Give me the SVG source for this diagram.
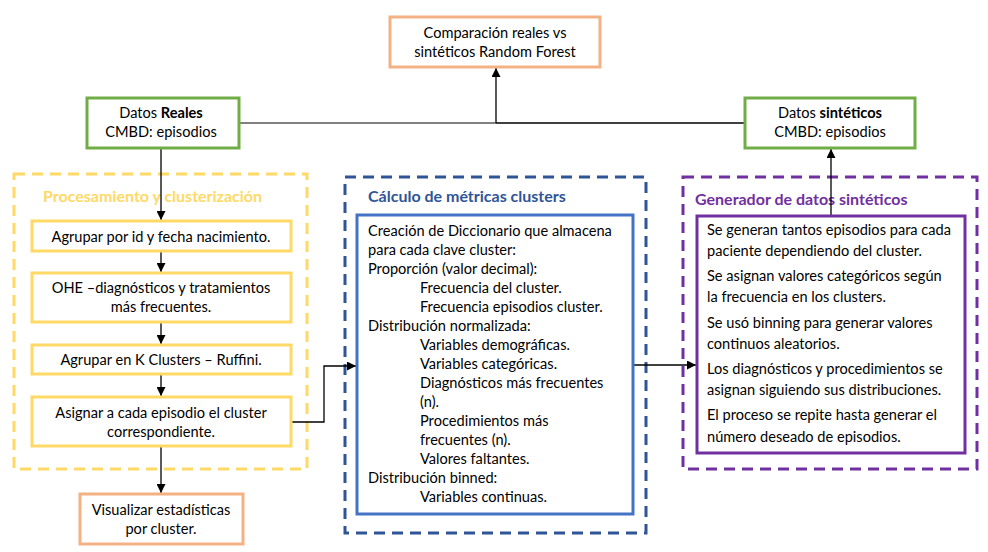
<svg xmlns="http://www.w3.org/2000/svg" width="988" height="552" viewBox="0 0 988 552">
<defs>
<marker id="ah" viewBox="0 0 10 10" refX="10" refY="5" markerWidth="9" markerHeight="9" markerUnits="userSpaceOnUse" orient="auto">
<path d="M0,0 L10,5 L0,10 z" fill="#000"/>
</marker>
</defs>
<style>
text{font-family:Lato,"Liberation Sans",sans-serif;font-size:14.6px;fill:#000}
.c{text-anchor:middle}
.b{font-weight:bold}
.t{font-weight:bold;font-size:16px}
.box{fill:#fff;stroke-width:3}
.green{stroke:#70AD47}
.orange{stroke:#F4B183}
.yellow{stroke:#FFD966}
.dash{fill:none;stroke-width:3;stroke-dasharray:11 7}
.con{fill:none;stroke:#000;stroke-width:1.3}
</style>
<rect width="988" height="552" fill="#fff"/>

<g id="grp-proc">
<rect class="dash" x="14" y="174" width="293" height="295" stroke="#FFD966"/>
<text x="43" y="202" class="t" style="fill:#FFD966">Procesamiento y clusterización</text>
</g>
<g id="grp-calc">
<rect class="dash" x="345" y="177" width="301" height="356" stroke="#2F5597"/>
<text x="368" y="202" class="t" style="fill:#2F5597">Cálculo de métricas clusters</text>
</g>
<g id="grp-gen">
<rect class="dash" x="683" y="177" width="294" height="292" stroke="#7030A0"/>
<text x="695" y="205" class="t" style="fill:#7030A0">Generador de datos sintéticos</text>
</g>

<g id="connectors">
<line class="con" x1="239" y1="123" x2="496" y2="123" style="stroke:#808080;stroke-width:2"/>
<line class="con" x1="496" y1="123" x2="745" y2="123"/>
<line class="con" x1="496" y1="123" x2="496" y2="68" marker-end="url(#ah)"/>
<line class="con" x1="161" y1="148" x2="161" y2="220" marker-end="url(#ah)"/>
<line class="con" x1="161" y1="251" x2="161" y2="272" marker-end="url(#ah)"/>
<line class="con" x1="161" y1="322" x2="161" y2="344" marker-end="url(#ah)"/>
<line class="con" x1="161" y1="374" x2="161" y2="396" marker-end="url(#ah)"/>
<line class="con" x1="161" y1="446" x2="161" y2="493" marker-end="url(#ah)"/>
<polyline class="con" points="291,422 324,422 324,366 356,366" marker-end="url(#ah)"/>
<line class="con" x1="633" y1="365" x2="696" y2="365" marker-end="url(#ah)"/>
<line class="con" x1="831" y1="215" x2="831" y2="149" marker-end="url(#ah)"/>
</g>

<g id="n-comparacion">
<rect class="box orange" x="390" y="17" width="210" height="50"/>
<text x="495" y="38" class="c">Comparación reales vs</text>
<text x="495" y="57" class="c">sintéticos Random Forest</text>
</g>
<g id="n-reales">
<rect class="box green" x="87" y="98" width="152" height="50"/>
<text x="161" y="118" class="c">Datos <tspan class="b">Reales</tspan></text>
<text x="161" y="137" class="c">CMBD: episodios</text>
</g>
<g id="n-sinteticos">
<rect class="box green" x="745" y="98" width="170" height="50"/>
<text x="830" y="118" class="c">Datos <tspan class="b">sintéticos</tspan></text>
<text x="830" y="137" class="c">CMBD: episodios</text>
</g>

<g id="n-agrupar-id">
<rect class="box yellow" x="32" y="221" width="259" height="30"/>
<text x="161" y="242" class="c">Agrupar por id y fecha nacimiento.</text>
</g>
<g id="n-ohe">
<rect class="box yellow" x="32" y="273" width="259" height="49"/>
<text x="161" y="293" class="c">OHE –diagnósticos y tratamientos</text>
<text x="161" y="312" class="c">más frecuentes.</text>
</g>
<g id="n-kclusters">
<rect class="box yellow" x="32" y="345" width="259" height="29"/>
<text x="161" y="365" class="c">Agrupar en K Clusters – Ruffini.</text>
</g>
<g id="n-asignar">
<rect class="box yellow" x="32" y="397" width="259" height="49"/>
<text x="161" y="418" class="c">Asignar a cada episodio el cluster</text>
<text x="161" y="437" class="c">correspondiente.</text>
</g>
<g id="n-visualizar">
<rect class="box orange" x="80" y="494" width="163" height="50"/>
<text x="161" y="515" class="c">Visualizar estadísticas</text>
<text x="161" y="534" class="c">por cluster.</text>
</g>

<g id="n-calculo">
<rect class="box" x="357" y="215" width="276" height="299" stroke="#4472C4"/>
<text x="368" y="236">Creación de Diccionario que almacena</text>
<text x="368" y="255">para cada clave cluster:</text>
<text x="368" y="274">Proporción (valor decimal):</text>
<text x="420" y="293">Frecuencia del cluster.</text>
<text x="420" y="312">Frecuencia episodios cluster.</text>
<text x="368" y="331">Distribución normalizada:</text>
<text x="420" y="350">Variables demográficas.</text>
<text x="420" y="369">Variables categóricas.</text>
<text x="420" y="388">Diagnósticos más frecuentes</text>
<text x="420" y="407">(n).</text>
<text x="420" y="426">Procedimientos más</text>
<text x="420" y="445">frecuentes (n).</text>
<text x="420" y="464">Valores faltantes.</text>
<text x="368" y="483">Distribución binned:</text>
<text x="420" y="502">Variables continuas.</text>
</g>

<g id="n-generador">
<rect class="box" x="697" y="216" width="268" height="237" stroke="#7030A0"/>
<text x="707" y="235">Se generan tantos episodios para cada</text>
<text x="707" y="256">paciente dependiendo del cluster.</text>
<text x="707" y="281">Se asignan valores categóricos según</text>
<text x="707" y="302">la frecuencia en los clusters.</text>
<text x="707" y="328">Se usó binning para generar valores</text>
<text x="707" y="349">continuos aleatorios.</text>
<text x="707" y="374">Los diagnósticos y procedimientos se</text>
<text x="707" y="395">asignan siguiendo sus distribuciones.</text>
<text x="707" y="420">El proceso se repite hasta generar el</text>
<text x="707" y="442">número deseado de episodios.</text>
</g>
</svg>
